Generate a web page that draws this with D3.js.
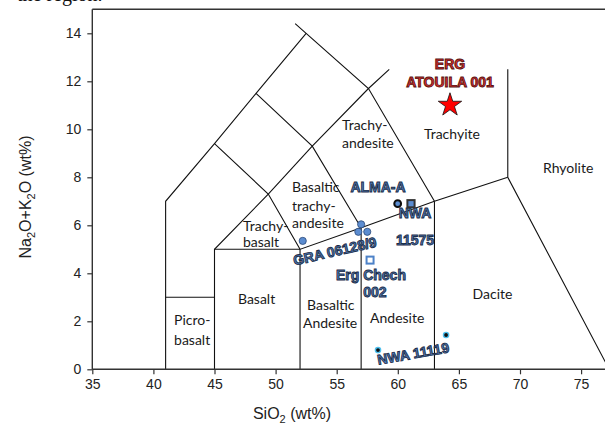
<!DOCTYPE html>
<html>
<head>
<meta charset="utf-8">
<script src="https://cdn.jsdelivr.net/npm/d3@7"></script>
<style>
body { margin: 0; background: #fff; }
svg { display: block; }
.fld { font-family: Lato, "Open Sans", sans-serif; font-size: 14px; fill: #1a1a1a; }
.smp { font-family: "Liberation Sans", Arial, sans-serif; font-weight: bold; font-size: 14px; stroke-width: 0.9px; }
.ttl { font-family: "Liberation Sans", Arial, sans-serif; font-size: 16px; fill: #222; }
</style>
</head>
<body>
<svg id="chart" width="605" height="428"></svg>
<script>
// axis ticks
var xTicks = [35, 40, 45, 50, 55, 60, 65, 70, 75];
var yTicks = [0, 2, 4, 6, 8, 10, 12, 14];

// TAS field boundaries (SiO2, Na2O+K2O)
var fieldLines = [
	[[41, 0], [41, 7], [45, 9.4], [48.4, 11.5], [52.5, 14]],
	[[51.6, 14.4], [52.5, 14], [57.6, 11.7], [63, 7]],
	[[41, 3], [45, 3]],
	[[45, 0], [45, 5], [49.4, 7.3], [53, 9.3], [57.6, 11.7], [59.3, 12.5]],
	[[45, 9.4], [49.4, 7.3], [52, 5]],
	[[48.4, 11.5], [53, 9.3], [57, 5.9]],
	[[45, 5], [52, 5]],
	[[52, 0], [52, 5], [57, 5.9], [63, 7], [69, 8]],
	[[57, 0], [57, 5.9]],
	[[63, 0], [63, 7]],
	[[69, 12.5], [69, 8], [77.3, 0]]
];

// field names: text, SiO2, alkali (left/baseline)
var fieldNames = [
	["Picro-", 41.69, 1.83], ["basalt", 41.69, 1.03],
	["Basalt", 46.92, 2.74],
	["Basaltic", 52.57, 2.49], ["Andesite", 52.24, 1.74],
	["Andesite", 57.73, 1.91],
	["Dacite", 66.12, 2.95],
	["Trachy-", 47.33, 5.76], ["basalt", 47.33, 5.1],
	["Basaltic", 51.34, 7.37], ["trachy-", 51.34, 6.59], ["andesite", 51.34, 5.9],
	["Trachy-", 55.43, 9.99], ["andesite", 55.43, 9.24],
	["Trachyite", 62.14, 9.58],
	["Rhyolite", 71.88, 8.2]
];

// samples
var graPoints = [[57.0, 6.04], [56.77, 5.73], [57.5, 5.73], [52.22, 5.35]];
var almaPoints = [[59.99, 6.9]];
var nwa11575Points = [[61.08, 6.9]];
var ergChechPoints = [[57.73, 4.55]];
var nwa11119Points = [[58.38, 0.8], [63.95, 1.43]];
var atouilaPoints = [[64.27, 11.01]];

// sample names: text, SiO2, alkali, angle
var blueNames = [
	["ALMA-A", 58.38, 7.4, 0],
	["NWA", 61.41, 6.29, 0],
	["11575", 61.41, 5.18, 0],
	["Erg Chech", 57.8, 3.72, 0],
	["002", 58.13, 3.0, 0],
	["GRA 06128/9", 54.94, 4.72, -13],
	["NWA 11119", 61.33, 0.45, -10]
];
var redNames = [
	["ERG", 64.27, 12.5, 0],
	["ATOUILA 001", 64.27, 11.75, 0]
];

var svg = d3.select("#chart");

var x = d3.scaleLinear().domain([35, 75]).range([92.3, 581.1]);
var y = d3.scaleLinear().domain([0, 15]).range([369.3, 9.3]);

// fragment of the page text above
svg.append("text")
  .attr("x", 17).attr("y", 1)
  .style("font-family", "Liberation Serif, serif")
  .style("font-size", "20px")
  .attr("fill", "#111")
  .text("the region.");

var line = d3.line()
  .x(function(d) { return x(d[0]); })
  .y(function(d) { return y(d[1]); });

svg.append("g")
  .selectAll("path")
  .data(fieldLines)
  .enter().append("path")
  .attr("d", line)
  .attr("fill", "none")
  .attr("stroke", "#111")
  .attr("stroke-width", 1.1);

// frame
svg.append("line")
  .attr("x1", x(35)).attr("x2", 605)
  .attr("y1", y(15)).attr("y2", y(15))
  .attr("stroke", "#333").attr("stroke-width", 1.4);

var xAxis = svg.append("g")
  .attr("transform", "translate(0," + y(0) + ")")
  .call(d3.axisBottom(x).tickValues(xTicks).tickSize(5).tickPadding(5));
xAxis.select(".domain").attr("d", "M" + x(35) + ",0H605");
var yAxis = svg.append("g")
  .attr("transform", "translate(" + x(35) + ",0)")
  .call(d3.axisLeft(y).tickValues(yTicks).tickSize(5).tickPadding(6));
yAxis.select(".domain").attr("d", "M0," + y(15) + "V" + y(0));
[xAxis, yAxis].forEach(function(g) {
	g.select(".domain").attr("stroke", "#333").attr("stroke-width", 1.4);
	g.selectAll(".tick line").attr("stroke", "#333").attr("stroke-width", 1.2);
	g.selectAll(".tick text").attr("fill", "#222").style("font-size", "14px").style("font-family", "Liberation Sans, Arial, sans-serif");
});

// axis titles
var xt = svg.append("text").attr("class", "ttl")
  .attr("x", 292).attr("y", 419).attr("text-anchor", "middle");
xt.append("tspan").text("SiO");
xt.append("tspan").attr("dy", 4).style("font-size", "11px").text("2");
xt.append("tspan").attr("dy", -4).text(" (wt%)");

var yt = svg.append("text").attr("class", "ttl")
  .attr("transform", "translate(31,197) rotate(-90)")
  .attr("text-anchor", "middle");
yt.append("tspan").text("Na");
yt.append("tspan").attr("dy", 4).style("font-size", "11px").text("2");
yt.append("tspan").attr("dy", -4).text("O+K");
yt.append("tspan").attr("dy", 4).style("font-size", "11px").text("2");
yt.append("tspan").attr("dy", -4).text("O (wt%)");

// field names
svg.append("g")
  .selectAll("text")
  .data(fieldNames)
  .enter().append("text")
  .attr("class", "fld")
  .attr("x", function(d) { return x(d[1]); })
  .attr("y", function(d) { return y(d[2]); })
  .text(function(d) { return d[0]; });

// sample names
function names(data, fill, stroke) {
	svg.append("g")
	  .selectAll("text")
	  .data(data)
	  .enter().append("text")
	  .attr("class", "smp")
	  .attr("text-anchor", "middle")
	  .attr("transform", function(d) {
		  return "translate(" + x(d[1]) + "," + y(d[2]) + ") rotate(" + d[3] + ")";
	  })
	  .attr("fill", fill)
	  .attr("stroke", stroke)
	  .text(function(d) { return d[0]; });
}
names(blueNames, "#4f7cb9", "#1d2d48");
names(redNames, "#e3302a", "#561414");

// points
function tx(d) { return "translate(" + x(d[0]) + "," + y(d[1]) + ")"; }

svg.append("g").selectAll("circle")
  .data(graPoints)
  .enter().append("circle")
  .attr("cx", function(d) { return x(d[0]); })
  .attr("cy", function(d) { return y(d[1]); })
  .attr("r", 3.6)
  .attr("fill", "#5b8cd0")
  .attr("stroke", "#2c4a78")
  .attr("stroke-width", 0.8);

svg.append("g").selectAll("circle")
  .data(almaPoints)
  .enter().append("circle")
  .attr("cx", function(d) { return x(d[0]); })
  .attr("cy", function(d) { return y(d[1]); })
  .attr("r", 3.4)
  .attr("fill", "#5b8cd0")
  .attr("stroke", "#0d0d0d")
  .attr("stroke-width", 2);

svg.append("g").selectAll("rect")
  .data(nwa11575Points)
  .enter().append("rect")
  .attr("x", function(d) { return x(d[0]) - 3.6; })
  .attr("y", function(d) { return y(d[1]) - 3.6; })
  .attr("width", 7.2).attr("height", 7.2)
  .attr("fill", "#5b8cd0")
  .attr("stroke", "#333")
  .attr("stroke-width", 2);

svg.append("g").selectAll("rect")
  .data(ergChechPoints)
  .enter().append("rect")
  .attr("x", function(d) { return x(d[0]) - 3.5; })
  .attr("y", function(d) { return y(d[1]) - 3.5; })
  .attr("width", 7).attr("height", 7)
  .attr("fill", "#fff")
  .attr("stroke", "#4d82c8")
  .attr("stroke-width", 2);

svg.append("g").selectAll("circle")
  .data(nwa11119Points)
  .enter().append("circle")
  .attr("cx", function(d) { return x(d[0]); })
  .attr("cy", function(d) { return y(d[1]); })
  .attr("r", 2.6)
  .attr("fill", "#111")
  .attr("stroke", "#4fc0ee")
  .attr("stroke-width", 1.4);

svg.append("g").selectAll("path")
  .data(atouilaPoints)
  .enter().append("path")
  .attr("transform", tx)
  .attr("d", d3.symbol(d3.symbolStar, 170))
  .attr("fill", "#ff0000")
  .attr("stroke", "#111")
  .attr("stroke-width", 0.8);
</script>
</body>
</html>
